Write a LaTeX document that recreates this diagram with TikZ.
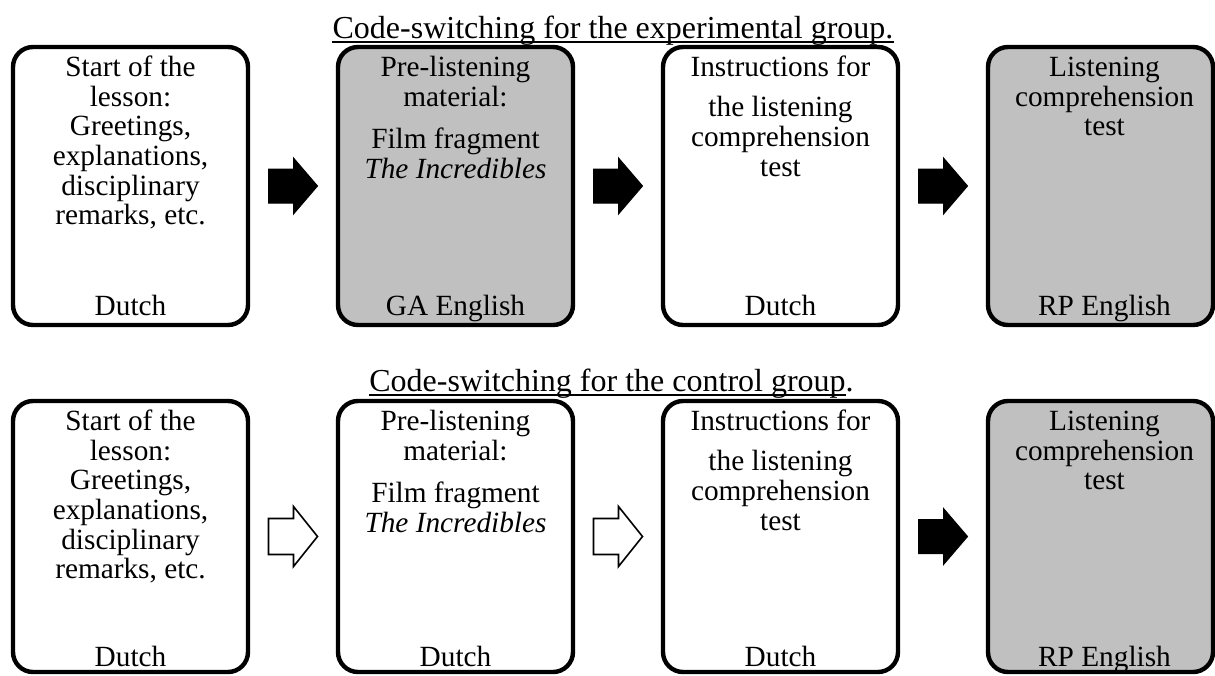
\documentclass[tikz,border=0pt]{standalone}
\usepackage{fontspec}
\setmainfont{Liberation Serif}
\usetikzlibrary{calc}
\definecolor{boxgray}{RGB}{192,192,192}
\tikzset{
  stagebox/.style={draw=black, line width=2.2pt, rounded corners=10pt, inner sep=0pt},
  shaded/.style={fill=boxgray},
  plain/.style={fill=white},
  boxtext/.style={anchor=north, inner sep=0pt, align=center, font=\fontsize{14.65pt}{14.8pt}\selectfont},
  langtext/.style={anchor=base, inner sep=0pt, font=\fontsize{14.65pt}{14.8pt}\selectfont},
  titletext/.style={anchor=base, inner sep=0pt, font=\fontsize{16pt}{18pt}\selectfont},
  solidarrow/.style={fill=black, draw=black, line width=0.5pt, line join=miter},
  openarrow/.style={fill=white, draw=black, line width=0.8pt, line join=miter},
  titleline/.style={line width=0.75pt},
}
\newcommand\blockarrow[5]{%
  \coordinate (m-#1-#2) at ($(#1.east)!0.5!(#2.west)$);
  \draw[#3] ($(m-#1-#2)+(-24.5,-#4)$) -- ($(m-#1-#2)+(0.5,-#4)$) -- ($(m-#1-#2)+(0.5,-#5)$)
    -- ($(m-#1-#2)+(24.5,0)$) -- ($(m-#1-#2)+(0.5,#5)$) -- ($(m-#1-#2)+(0.5,#4)$)
    -- ($(m-#1-#2)+(-24.5,#4)$) -- cycle;
}
\begin{document}
\begin{tikzpicture}[x=0.5pt,y=-0.5pt]
\useasboundingbox (0,0) rectangle (1215,675);

% ---------- Experimental group ----------
\node[titletext] (tt1) at (613,38) {Code-switching for the experimental group.};
\draw[titleline] ($(tt1.base west)+(0,4)$) -- ($(tt1.base east)+(0,4)$);

\node[stagebox, plain, minimum width=117.5pt, minimum height=139pt] (a1) at (130.5,186) {};
\node[stagebox, shaded, minimum width=117.5pt, minimum height=139pt] (a2) at (455.5,186) {};
\node[stagebox, plain, minimum width=117.5pt, minimum height=139pt] (a3) at (780.5,186) {};
\node[stagebox, shaded, minimum width=112.5pt, minimum height=139pt] (a4) at (1100.5,186) {};

\node[boxtext] (a1t) at ($(a1.north)+(0,10.8)$) {\strut Start of the\\lesson:\\Greetings,\\explanations,\\disciplinary\\remarks, etc.};
\node[boxtext] (a2t) at ($(a2.north)+(0,10.8)$) {\strut Pre-listening\\material:\\[6.5pt]Film fragment\\\textit{The Incredibles}};
\node[boxtext] (a3t) at ($(a3.north)+(0,10.8)$) {\strut Instructions for\\[5.25pt]the listening\\comprehension\\test};
\node[boxtext] (a4t) at ($(a4.north)+(4,10.8)$) {\strut Listening\\comprehension\\test};

\node[langtext] (a1l) at ($(a1.south)+(0,-12)$) {Dutch};
\node[langtext] (a2l) at ($(a2.south)+(0,-12)$) {GA English};
\node[langtext] (a3l) at ($(a3.south)+(0,-12)$) {Dutch};
\node[langtext] (a4l) at ($(a4.south)+(4,-12)$) {RP English};

\blockarrow{a1}{a2}{solidarrow}{17}{28}
\blockarrow{a2}{a3}{solidarrow}{17}{28}
\blockarrow{a3}{a4}{solidarrow}{17}{28}

% ---------- Control group ----------
\node[titletext] (tt2) at (611.5,391) {Code-switching for the control group.};
\draw[titleline] ($(tt2.base west)+(0,4)$) -- ($(tt2.base east)+(-8,4)$);

\node[stagebox, plain, minimum width=117.5pt, minimum height=135.5pt] (b1) at (130.5,536.5) {};
\node[stagebox, plain, minimum width=117.5pt, minimum height=135.5pt] (b2) at (455.5,536.5) {};
\node[stagebox, plain, minimum width=117.5pt, minimum height=135.5pt] (b3) at (780.5,536.5) {};
\node[stagebox, shaded, minimum width=112.5pt, minimum height=135.5pt] (b4) at (1100.5,536.5) {};

\node[boxtext] (b1t) at ($(b1.north)+(0,10.8)$) {\strut Start of the\\lesson:\\Greetings,\\explanations,\\disciplinary\\remarks, etc.};
\node[boxtext] (b2t) at ($(b2.north)+(0,10.8)$) {\strut Pre-listening\\material:\\[6.5pt]Film fragment\\\textit{The Incredibles}};
\node[boxtext] (b3t) at ($(b3.north)+(0,10.8)$) {\strut Instructions for\\[5.25pt]the listening\\comprehension\\test};
\node[boxtext] (b4t) at ($(b4.north)+(4,10.8)$) {\strut Listening\\comprehension\\test};

\node[langtext] (b1l) at ($(b1.south)+(0,-8)$) {Dutch};
\node[langtext] (b2l) at ($(b2.south)+(0,-8)$) {Dutch};
\node[langtext] (b3l) at ($(b3.south)+(0,-8)$) {Dutch};
\node[langtext] (b4l) at ($(b4.south)+(4,-8)$) {RP English};

\blockarrow{b1}{b2}{openarrow}{18}{30}
\blockarrow{b2}{b3}{openarrow}{18}{30}
\blockarrow{b3}{b4}{solidarrow}{17}{28}
\end{tikzpicture}
\end{document}
